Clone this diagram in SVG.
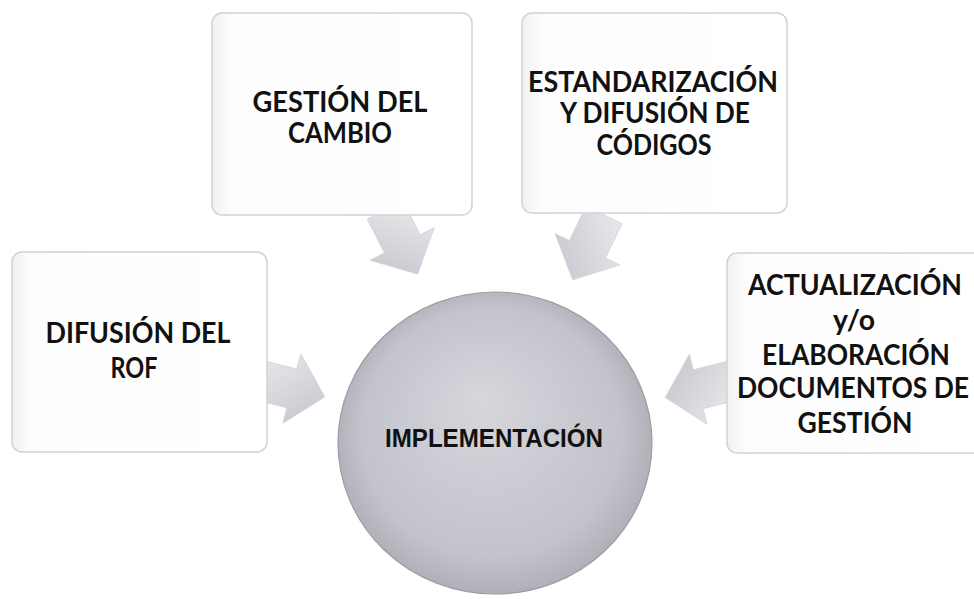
<svg xmlns="http://www.w3.org/2000/svg" width="974" height="599" viewBox="0 0 974 599">
  <defs>
    <linearGradient id="arrowGrad" x1="0" y1="0" x2="1" y2="1">
      <stop offset="0" stop-color="#ececf0"/>
      <stop offset="1" stop-color="#c2c2ca"/>
    </linearGradient>
    <radialGradient id="circleGrad" cx="0.5" cy="0.5" r="0.55" fx="0.45" fy="0.35">
      <stop offset="0" stop-color="#d6d6dd"/>
      <stop offset="0.75" stop-color="#c3c3cb"/>
      <stop offset="1" stop-color="#a8a8b2"/>
    </radialGradient>
    <linearGradient id="boxGrad" x1="0" y1="0" x2="1" y2="0">
      <stop offset="0" stop-color="#f1f1f1"/>
      <stop offset="0.08" stop-color="#fdfdfd"/>
      <stop offset="1" stop-color="#ffffff"/>
    </linearGradient>
  </defs>
  <style>
    .box { fill: url(#boxGrad); stroke: #d2d2d2; stroke-width: 1.5; }
    .arrow { fill: url(#arrowGrad); stroke: #d4d4da; stroke-width: 0.8; }
    .lbl { font-family: Lato, "Open Sans", "Liberation Sans", sans-serif; font-weight: 700; font-size: 28px; fill: #111; text-anchor: middle; }
    .center { font-family: "Liberation Sans Narrow", "Liberation Sans", Arial, sans-serif; font-weight: 700; font-size: 26px; fill: #111; text-anchor: middle; }
  </style>
  <rect width="974" height="599" fill="#ffffff"/>

  <g id="connectors">
    <polygon class="arrow" points="0,-20 38,-20 38,-36 72,0 38,36 38,20 0,20" transform="translate(385,210) rotate(63)"/>
    <polygon class="arrow" points="0,-20 38,-20 38,-36 72,0 38,36 38,20 0,20" transform="translate(604,215) rotate(115.8)"/>
    <polygon class="arrow" points="0,-20 38,-20 38,-36 72,0 38,36 38,20 0,20" transform="translate(255,379) rotate(14.4)"/>
    <polygon class="arrow" points="0,-20 38,-20 38,-36 72,0 38,36 38,20 0,20" transform="translate(735,380) rotate(165.9)"/>
  </g>

  <g id="node-implementacion">
    <ellipse cx="495" cy="443" rx="157" ry="151" fill="url(#circleGrad)" stroke="#9c9ca6" stroke-width="1.2"/>
    <text class="center" x="494" y="447" textLength="218" lengthAdjust="spacingAndGlyphs">IMPLEMENTACIÓN</text>
  </g>

  <g id="node-gestion-cambio">
    <rect class="box" x="212" y="13" width="260" height="202" rx="10"/>
    <text class="lbl" x="340" y="112" textLength="175" lengthAdjust="spacingAndGlyphs">GESTIÓN DEL</text>
    <text class="lbl" x="340" y="143" textLength="104" lengthAdjust="spacingAndGlyphs">CAMBIO</text>
  </g>

  <g id="node-estandarizacion">
    <rect class="box" x="522" y="13" width="265" height="200" rx="10"/>
    <text class="lbl" x="653" y="92" textLength="250" lengthAdjust="spacingAndGlyphs">ESTANDARIZACIÓN</text>
    <text class="lbl" x="655" y="123" textLength="190" lengthAdjust="spacingAndGlyphs">Y DIFUSIÓN DE</text>
    <text class="lbl" x="654" y="155" textLength="115" lengthAdjust="spacingAndGlyphs">CÓDIGOS</text>
  </g>

  <g id="node-difusion-rof">
    <rect class="box" x="12" y="252" width="255" height="200" rx="10"/>
    <text class="lbl" x="138" y="343" textLength="185" lengthAdjust="spacingAndGlyphs">DIFUSIÓN DEL</text>
    <text class="lbl" x="134" y="378" textLength="47" lengthAdjust="spacingAndGlyphs">ROF</text>
  </g>

  <g id="node-actualizacion">
    <rect class="box" x="727" y="253" width="258" height="200" rx="10"/>
    <text class="lbl" x="855" y="295" textLength="214" lengthAdjust="spacingAndGlyphs">ACTUALIZACIÓN</text>
    <text class="lbl" x="854" y="330" textLength="42" lengthAdjust="spacingAndGlyphs">y/o</text>
    <text class="lbl" x="856" y="365" textLength="188" lengthAdjust="spacingAndGlyphs">ELABORACIÓN</text>
    <text class="lbl" x="853" y="398" textLength="232" lengthAdjust="spacingAndGlyphs">DOCUMENTOS DE</text>
    <text class="lbl" x="855" y="433" textLength="115" lengthAdjust="spacingAndGlyphs">GESTIÓN</text>
  </g>
</svg>
